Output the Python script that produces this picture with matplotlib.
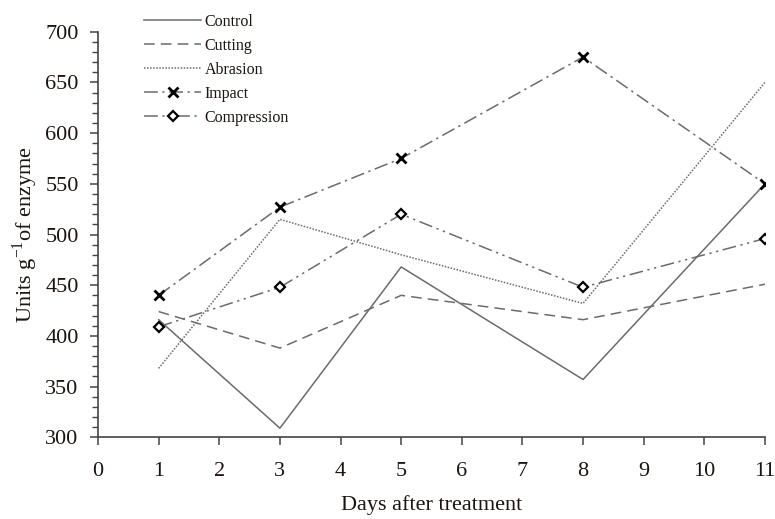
import matplotlib
matplotlib.use("Agg")
import matplotlib.pyplot as plt
from matplotlib.ticker import MultipleLocator

plt.rcParams['font.family'] = ['Liberation Serif', 'DejaVu Serif']

# sampling days and enzyme activity per treatment
days = [1, 3, 5, 8, 11]
control = [416, 309, 468, 357, 550]
cutting = [424, 388, 440, 416, 451]
abrasion = [368, 515, 480, 432, 650]
impact = [440, 527, 575, 675, 550]
compression = [409, 448, 520, 448, 496]

line_col = '#6b6b6b'
text_col = '#1c1410'

fig = plt.figure(figsize=(7.75, 5.19), dpi=100)
ax = fig.add_axes([0.1265, 0.1574, 0.8605, 0.7815])

ax.plot(days, control, color=line_col, lw=1.1, ls='-', label='Control')
ax.plot(days, cutting, color=line_col, lw=1.1, ls=(0, (7, 4)), label='Cutting')
ax.plot(days, abrasion, color=line_col, lw=1.1, ls=(0, (1, 1)), label='Abrasion')
ax.plot(days, impact, color=line_col, lw=1.1, ls=(0, (9, 3, 1.5, 3)),
        marker='x', ms=6.5, mec='black', mew=2.0, label='Impact')
ax.plot(days, compression, color=line_col, lw=1.1, ls=(0, (9, 3, 1.5, 3, 1.5, 3)),
        marker='D', ms=5, mfc='white', mec='black', mew=1.6, label='Compression')

ax.set_xlim(0, 11)
ax.set_ylim(300, 700)
ax.xaxis.set_major_locator(MultipleLocator(1))
ax.yaxis.set_major_locator(MultipleLocator(50))
ax.yaxis.set_minor_locator(MultipleLocator(10))

for side in ('top', 'right'):
    ax.spines[side].set_visible(False)
for side in ('left', 'bottom'):
    ax.spines[side].set_color('#444444')
    ax.spines[side].set_linewidth(1.2)

ax.tick_params(axis='both', which='major', direction='out', length=6, width=1.1,
               color='#444444', labelsize=16, labelcolor=text_col)
ax.tick_params(axis='x', which='major', pad=12)
ax.tick_params(axis='y', which='major', pad=8)
ax.tick_params(axis='y', which='minor', direction='out', length=4, width=1.0, color='#444444')
ax.tick_params(axis='x', which='minor', length=0)

ax.set_xlabel('Days after treatment', fontsize=16, color=text_col, labelpad=10)
ax.set_ylabel('Units g$^{\\mathregular{-1}}$of enzyme', fontsize=16, color=text_col, labelpad=4)

fig.legend(loc='upper left', bbox_to_anchor=(0.168, 1.0), frameon=False,
           fontsize=11.5, labelcolor=text_col, handlelength=3.6, handletextpad=0.2,
           labelspacing=0.5, borderpad=0.35)

fig.savefig('out.png', dpi=100)
